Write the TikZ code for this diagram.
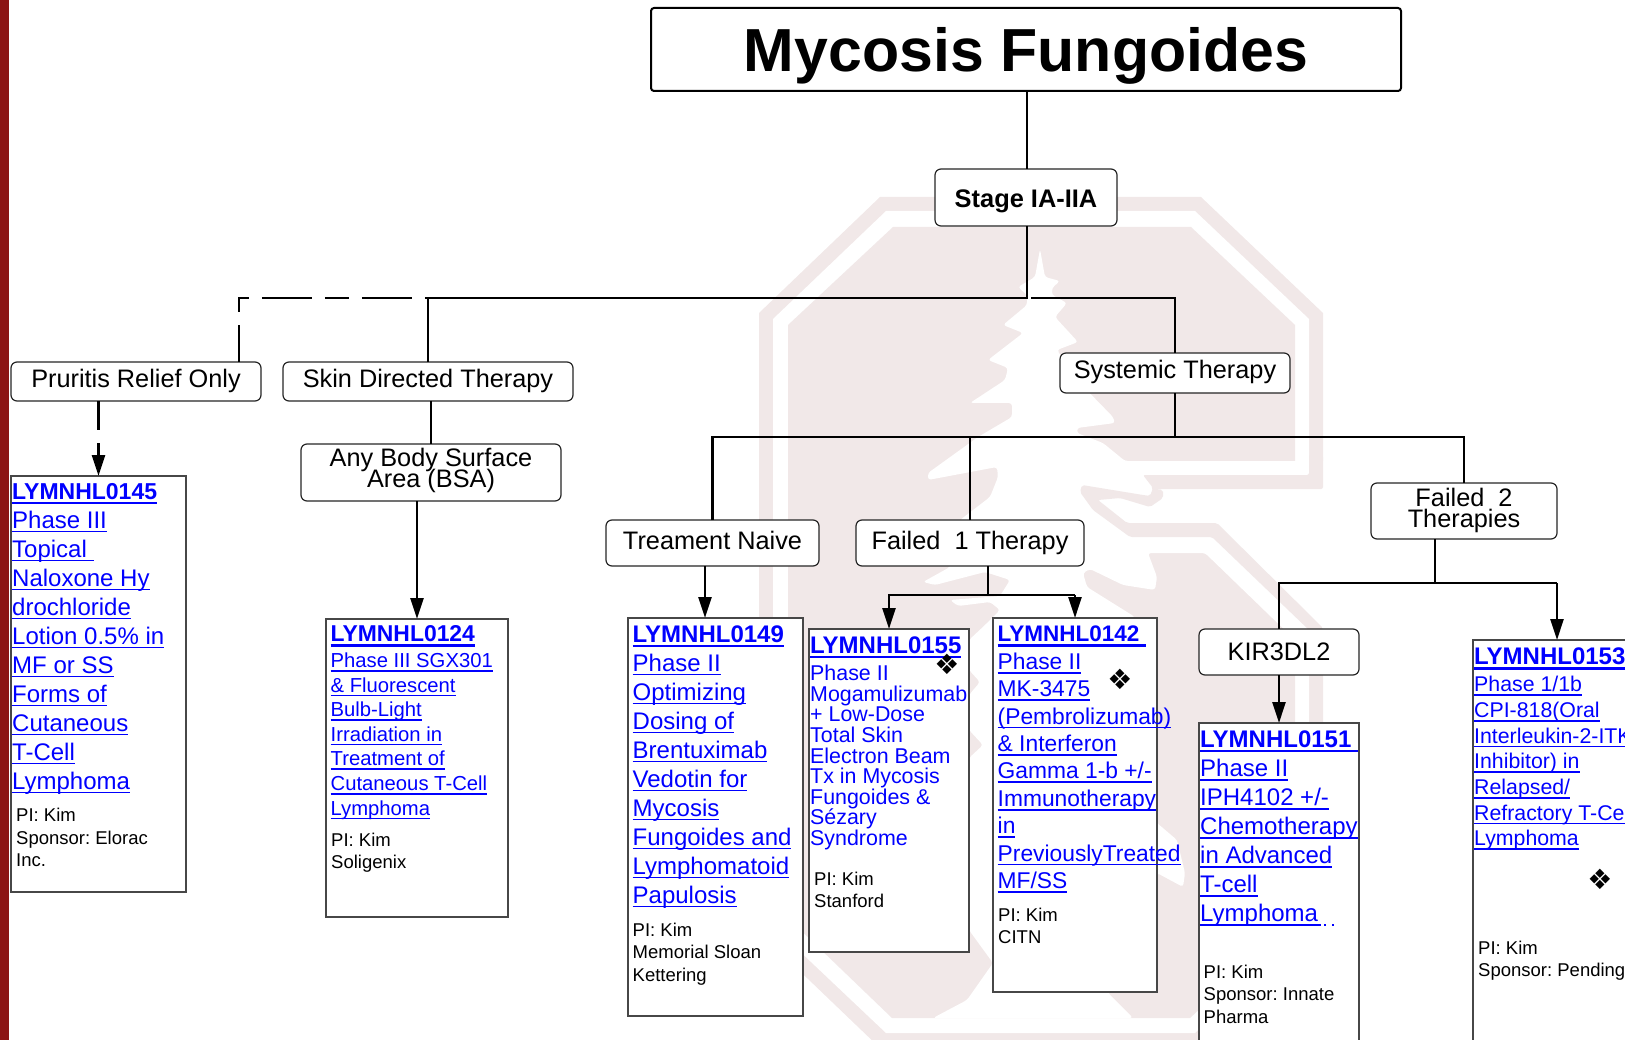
\documentclass[tikz,border=0pt]{standalone}
\usepackage{fontspec}
\setmainfont{Liberation Sans}
\newfontfamily\symfont{DejaVu Sans}
\usetikzlibrary{arrows.meta,positioning}
\definecolor{linkblue}{HTML}{0000FF}
\definecolor{cardinal}{HTML}{8C1515}
\definecolor{wmpink}{HTML}{F1E8E8}
\setlength{\lineskiplimit}{-60pt}
\newdimen\ulthick \ulthick=1.7pt
\newcommand{\ulink}[1]{\leavevmode\setbox0=\hbox{#1}\rlap{\vrule width\wd0 height-2.5pt depth\dimexpr2.5pt+\ulthick\relax}\box0}
\newcommand{\trialid}[1]{{\bfseries\ulthick=2.5pt\ulink{#1}}}
\tikzset{
>={Triangle[length=21pt,width=13pt]},
  line/.style={draw, line width=2.6pt},
  dashline/.style={line, dash pattern=on 37pt off 13pt on 24pt off 13pt on 50pt off 13pt on 24pt off 13pt on 50pt off 13pt},
  pil/.style={line, ->},
  titlebox/.style={
    rectangle,
    rounded corners=3pt,
    draw=black, line width=2pt,
    fill=white,
    anchor=north west,
    inner sep=0pt, outer sep=0pt,
    text height=57pt, text depth=13pt,
    font=\fontsize{60.8}{70}\selectfont\bfseries},
  stagebox/.style={
    rectangle,
    rounded corners=6pt,
    draw=black!85, line width=1.2pt,
    fill=white,
    anchor=north west,
    inner sep=0pt, outer sep=0pt,
    align=center,
    font=\fontsize{25.3}{21}\selectfont},
  trialbox/.style={
    rectangle,
    draw=black!72, line width=1.3pt,
    fill=white,
    anchor=north west,
    inner sep=0pt, outer sep=0pt},
  trialtext/.style={anchor=north west, inner sep=0pt, align=left, text=linkblue},
  pitext/.style={anchor=north west, inner sep=0pt, align=left,
    font=\fontsize{18.5}{22.5}\selectfont},
  diamondmark/.style={inner sep=0pt, font=\symfont\fontsize{28}{28}\selectfont},
}
\begin{document}
\frenchspacing
\begin{tikzpicture}[x=1pt,y=-1pt]
    \useasboundingbox (0,0) rectangle (1625,1040);
    \clip (0,0) rectangle (1625,1040);
    % watermark
    \fill[wmpink] (880,197) -- (1201,197) -- (1323,313) -- (1323,930) -- (1201,1048)
        -- (880,1048) -- (759,932) -- (759,313) -- cycle;
    \fill[white] (886,211) -- (1195,211) -- (1309,319) -- (1309,926) -- (1195,1033)
        -- (886,1033) -- (773,926) -- (773,319) -- cycle;
    \fill[wmpink] (893,227) -- (1191,227) -- (1295,325) -- (1295,920) -- (1190,1018)
        -- (892,1018) -- (788,918) -- (788,325) -- cycle;
    \fill[white, rounded corners=3pt] (1040,249) -- (1045,277) -- (1060,281) -- (1052,288)
        -- (1052,295) -- (1067,303) -- (1055,317) -- (1078,342) -- (1057,350) -- (1077,380)
        -- (1113,417) -- (1115,423) -- (1077,428) -- (1077,433) -- (1103,443) -- (1125,461)
        -- (1330,461) -- (1330,640) -- (1295,640) -- (1205,553) -- (1148,553) -- (1157,577)
        -- (1155,590) -- (1123,585) -- (1090,569) -- (1083,573) -- (1087,587) -- (1135,617)
        -- (1120,700) -- (1157,823) -- (1177,840) -- (1185,873) -- (1183,887) -- (1157,873)
        -- (1120,900) -- (1108,993) -- (1133,1018) -- (933,1018) -- (967,1000) -- (993,963)
        -- (969,930) -- (969,758) -- (983,745) -- (969,730) -- (969,695) -- (980,682)
        -- (969,670) -- (969,640) -- (985,625) -- (1000,610) -- (990,602) -- (958,606)
        -- (950,600) -- (1000,596) -- (1010,580) -- (985,572) -- (935,585) -- (923,582)
        -- (950,567) -- (960,520) -- (990,497) -- (998,477) -- (997,467) -- (928,480)
        -- (928,473) -- (978,437) -- (1012,417) -- (1012,403) -- (970,403) -- (1005,380)
        -- (1008,368) -- (988,360) -- (1023,333) -- (1003,325) -- (1027,305) -- (1027,295)
        -- (1018,287) -- (1035,277) -- cycle;
    \fill[wmpink, rounded corners=2pt] (1309,455) -- (1323,455) -- (1323,489) -- (1153,489)
        -- (1163,490) -- (1163,498) -- (1150,507) -- (1120,498) -- (1098,500) -- (1127,523)
        -- (1217,523) -- (1323,628) -- (1323,660) -- (1309,660) -- (1309,630) -- (1212,537)
        -- (1130,537) -- (1093,510) -- (1080,492) -- (1082,485) -- (1143,495) -- (1150,496)
        -- (1153,488) -- (1143,475) -- (1309,475) -- cycle;
    \fill[cardinal] (0,0) rectangle (9,1040);

    \node[titlebox, minimum width=750pt, minimum height=83pt] (title) at (651,8) {Mycosis Fungoides};
    \node[stagebox, minimum width=182pt, minimum height=57pt, text height=26pt, text depth=5.5pt, font=\fontsize{25.4}{30}\selectfont\bfseries] (stage) at (935,169) {Stage IA-IIA};
    \node[stagebox, minimum width=250pt, minimum height=39pt, text depth=7pt] (pruritis) at (11,362) {Pruritis Relief Only};
    \node[stagebox, minimum width=290pt, minimum height=39pt, text depth=7pt] (skin) at (283,362) {Skin Directed Therapy};
    \node[stagebox, minimum width=230pt, minimum height=40pt, text depth=7pt] (systemic) at (1060,353) {Systemic Therapy};
    \node[stagebox, minimum width=260pt, minimum height=57pt, text depth=9pt] (bsa) at (301,444) {Any Body Surface\\Area (BSA)};
    \node[stagebox, minimum width=213pt, minimum height=46pt, text depth=5.5pt] (naive) at (606,520) {Treament Naive};
    \node[stagebox, minimum width=228pt, minimum height=46pt, text depth=5.5pt] (failone) at (856,520) {Failed\ \ 1 Therapy};
    \node[stagebox, minimum width=186pt, minimum height=56pt, text depth=7pt] (failtwo) at (1371,483) {Failed\ \ 2\\Therapies};
    \node[stagebox, minimum width=160pt, minimum height=46pt] (kir) at (1199,629) {KIR3DL2};

    \node[trialbox, minimum width=175pt, minimum height=416pt] (t145) at (11,476) {};
    \node[trialtext, font=\fontsize{24}{29}\selectfont, below right=7pt and 1pt of t145.north west] (t145a)
        {{\fontsize{23}{29}\selectfont\trialid{LYMNHL0145}}\\\ulink{Phase III}\\\ulink{Topical\ }\\\ulink{Naloxone Hy}\\\ulink{drochloride}\\\ulink{Lotion 0.5\% in}\\\ulink{MF or SS}\\\ulink{Forms of}\\\ulink{Cutaneous}\\\ulink{T-Cell}\\\ulink{Lymphoma}};
    \node[pitext, below right=332.3pt and 5pt of t145.north west] (t145b) {PI: Kim\\Sponsor: Elorac\\Inc.};

    \node[trialbox, minimum width=182pt, minimum height=298pt] (t124) at (326,619) {};
    \node[trialtext, font=\fontsize{20.25}{24.6}\selectfont, below right=6.7pt and 4.5pt of t124.north west] (t124a)
        {{\fontsize{22.9}{24.6}\selectfont\trialid{LYMNHL0124}}\\[1pt]\ulink{Phase III SGX301}\\\ulink{\& Fluorescent}\\\ulink{Bulb-Light}\\\ulink{Irradiation in}\\\ulink{Treatment of}\\\ulink{Cutaneous T-Cell}\\\ulink{Lymphoma}};
    \node[pitext, below right=213.6pt and 5pt of t124.north west] (t124b) {PI: Kim\\Soligenix};

    \node[trialbox, minimum width=175pt, minimum height=398pt] (t149) at (628,618) {};
    \node[trialtext, font=\fontsize{24}{29}\selectfont, below right=7.2pt and 4.5pt of t149.north west] (t149a)
        {\trialid{LYMNHL0149}\\\ulink{Phase II}\\\ulink{Optimizing}\\\ulink{Dosing of}\\\ulink{Brentuximab}\\\ulink{Vedotin for}\\\ulink{Mycosis}\\\ulink{Fungoides and}\\\ulink{Lymphomatoid}\\\ulink{Papulosis}};
    \node[pitext, below right=304.6pt and 4.5pt of t149.north west] (t149b) {PI: Kim\\Memorial Sloan\\Kettering};

    \node[trialbox, minimum width=160pt, minimum height=323pt] (t155) at (809,629) {};
    \node[trialtext, font=\fontsize{21.4}{20.6}\selectfont, below right=7.4pt and 1pt of t155.north west] (t155a)
        {{\fontsize{24}{29}\selectfont\trialid{LYMNHL0155}}\\[6.7pt]Phase II\\Mogamulizumab\\+ Low-Dose\\Total Skin\\Electron Beam\\Tx in Mycosis\\Fungoides \&\\Sézary\\Syndrome};
    \node[pitext, below right=242.6pt and 5pt of t155.north west] (t155b) {PI: Kim\\Stanford};
    \node[diamondmark] (mark155) at (947,664) {❖};

    \node[trialbox, minimum width=164pt, minimum height=374pt] (t142) at (993,618) {};
    \node[trialtext, font=\fontsize{22.8}{27.4}\selectfont, below right=7.8pt and 4.5pt of t142.north west] (t142a)
        {{\fontsize{22.5}{27}\selectfont\trialid{LYMNHL0142\ }}\\[0.2pt]\ulink{Phase II}\\\ulink{MK-3475}\\\ulink{(Pembrolizumab)}\\\ulink{\& Interferon}\\\ulink{Gamma 1-b +/-}\\\ulink{Immunotherapy}\\\ulink{in}\\\ulink{PreviouslyTreated}\\\ulink{MF/SS}};
    \node[pitext, below right=289.6pt and 5pt of t142.north west] (t142b) {PI: Kim\\CITN};
    \node[diamondmark] (mark142) at (1120,679) {❖};

    \node[trialbox, minimum width=160pt, minimum height=400pt] (t151) at (1199,723) {};
    \node[trialtext, font=\fontsize{24}{29}\selectfont, below right=7.4pt and 1pt of t151.north west] (t151a)
        {\trialid{LYMNHL0151\ }\\\ulink{Phase II}\\\ulink{IPH4102 +/-}\\\ulink{Chemotherapy}\\\ulink{in Advanced}\\\ulink{T-cell}\\\ulink{Lymphoma\kern3pt}\kern3pt\rule[-4.2pt]{2pt}{1.7pt}\kern6pt\rule[-4.2pt]{2pt}{1.7pt}};
    \node[pitext, below right=241.6pt and 4.5pt of t151.north west] (t151b) {PI: Kim\\Sponsor: Innate\\Pharma};

    \node[trialbox, minimum width=170pt, minimum height=450pt] (t153) at (1473,640) {};
    \node[trialtext, font=\fontsize{21.3}{25.7}\selectfont, below right=7.7pt and 1pt of t153.north west] (t153a)
        {{\fontsize{24}{27}\selectfont\trialid{LYMNHL0153}}\\[1.3pt]\ulink{Phase 1/1b}\\\ulink{CPI-818(Oral}\\\ulink{Interleukin-2-ITK}\\\ulink{Inhibitor) in}\\\ulink{Relapsed/}\\\ulink{Refractory T-Cell}\\\ulink{Lymphoma}};
    \node[pitext, below right=300.6pt and 5pt of t153.north west] (t153b) {PI: Kim\\Sponsor: Pending};
    \node[diamondmark] (mark153) at (1600,879) {❖};

    \coordinate (mainbus) at (1027,298);
    \coordinate (sysbus) at (1175,437);
    \coordinate (failbus) at (988,595);
    \coordinate (twobus) at (1435,583);
    \coordinate (dashcorner) at (238.8,298);
    \coordinate (t153top) at (1557,640);

    \draw[line] (title.south -| mainbus) -- (stage.north -| mainbus);
    \draw[line] (stage.south -| mainbus) -- (mainbus) -- (skin.north |- mainbus) -- (skin.north);
    \draw[line] ([xshift=4pt]mainbus) -- (systemic.north |- mainbus) -- (systemic.north);
    \draw[dashline] (pruritis.north -| dashcorner) -- (dashcorner) -- (skin.north |- mainbus);
    \draw[pil, dash pattern=on 29pt off 13pt on 60pt] (t145.north |- pruritis.south) -- (t145.north);
    \draw[line] (bsa.north |- skin.south) -- (bsa.north);
    \draw[pil] (t124.north |- bsa.south) -- (t124.north);

    \draw[line] (systemic.south) -- (sysbus);
    \draw[line] (naive.north) -- (naive.north |- sysbus) -- (failtwo.north |- sysbus) -- (failtwo.north);
    \draw[line] (failone.north) -- (failone.north |- sysbus);
    \draw[pil] ([xshift=-7.5pt]naive.south) -- ([xshift=-7.5pt]naive.south |- t149.north);
    \draw[line] (failone.south -| failbus) -- (failbus);
    \draw[pil] (t142.north |- failbus) -- (t155.north |- failbus) -- (t155.north);
    \draw[pil] (t142.north |- failbus) -- (t142.north);
    \draw[line] (failtwo.south -| twobus) -- (twobus);
    \draw[line] (kir.north) -- (kir.north |- twobus) -- (t153top |- twobus);
    \draw[pil] (t153top |- twobus) -- (t153top);
    \draw[pil] (kir.south) -- (t151.north);
\end{tikzpicture}
\end{document}
